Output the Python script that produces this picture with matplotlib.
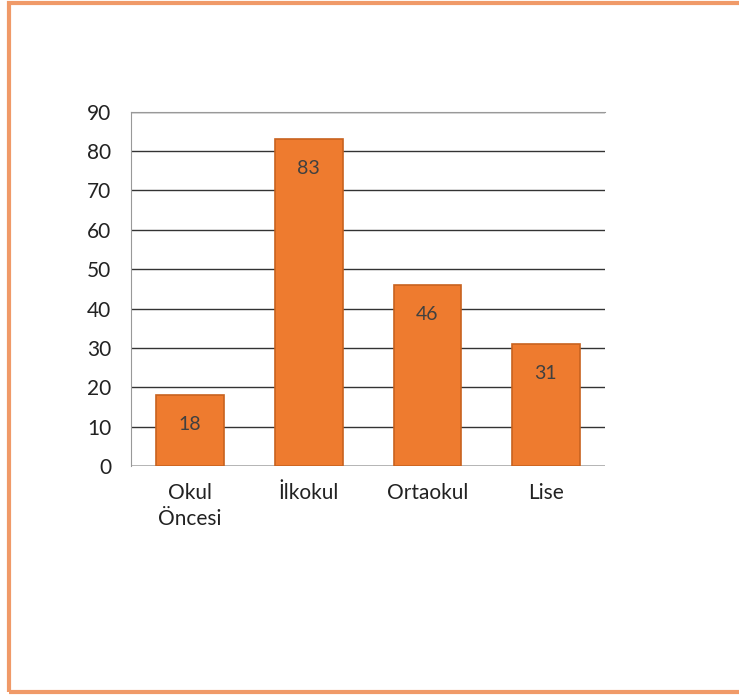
import matplotlib.pyplot as plt
from matplotlib.patches import Rectangle

categories = ['Okul\nÖncesi', 'İlkokul', 'Ortaokul', 'Lise']
values = [18, 83, 46, 31]
y_ticks = [0, 10, 20, 30, 40, 50, 60, 70, 80, 90]

plt.rcParams['font.family'] = ['Lato', 'DejaVu Sans']

fig = plt.figure(figsize=(7.39, 6.98), dpi=100)
fig.patch.set_facecolor('white')

# orange frame, right side runs off the picture
fig.patches.append(Rectangle((0.012, 0.008), 1.0, 0.988, transform=fig.transFigure,
                             fill=False, edgecolor='#F09A68', linewidth=3))

ax = fig.add_axes([0.177, 0.332, 0.642, 0.508])
x = range(len(categories))
bars = ax.bar(x, values, width=0.57, color='#EE7B2F', edgecolor='#C8621F',
              linewidth=1.2, zorder=3)

for b, v in zip(bars, values):
    ax.text(b.get_x() + b.get_width() / 2, v - 7.5, str(v), ha='center', va='center',
            fontsize=14, color='#404040', zorder=4)

ax.set_xlim(-0.5, len(categories) - 0.5)
ax.set_ylim(0, 90)
ax.set_yticks(y_ticks)
ax.yaxis.grid(True, color='#333333', linewidth=1.0, zorder=0)
ax.set_axisbelow(True)
for s in ['right', 'bottom']:
    ax.spines[s].set_visible(False)
ax.spines['left'].set_color('#999999')
ax.spines['top'].set_color('#999999')
ax.axhline(0, color='#333333', linewidth=1.0, zorder=2)
ax.set_xticks(list(x))
ax.set_xticklabels(categories, fontsize=15, color='#222222', linespacing=1.35)
ax.tick_params(axis='y', labelsize=15, colors='#222222', length=0, pad=14)
ax.tick_params(axis='x', length=0, pad=12)

fig.savefig('out.png', dpi=100)
